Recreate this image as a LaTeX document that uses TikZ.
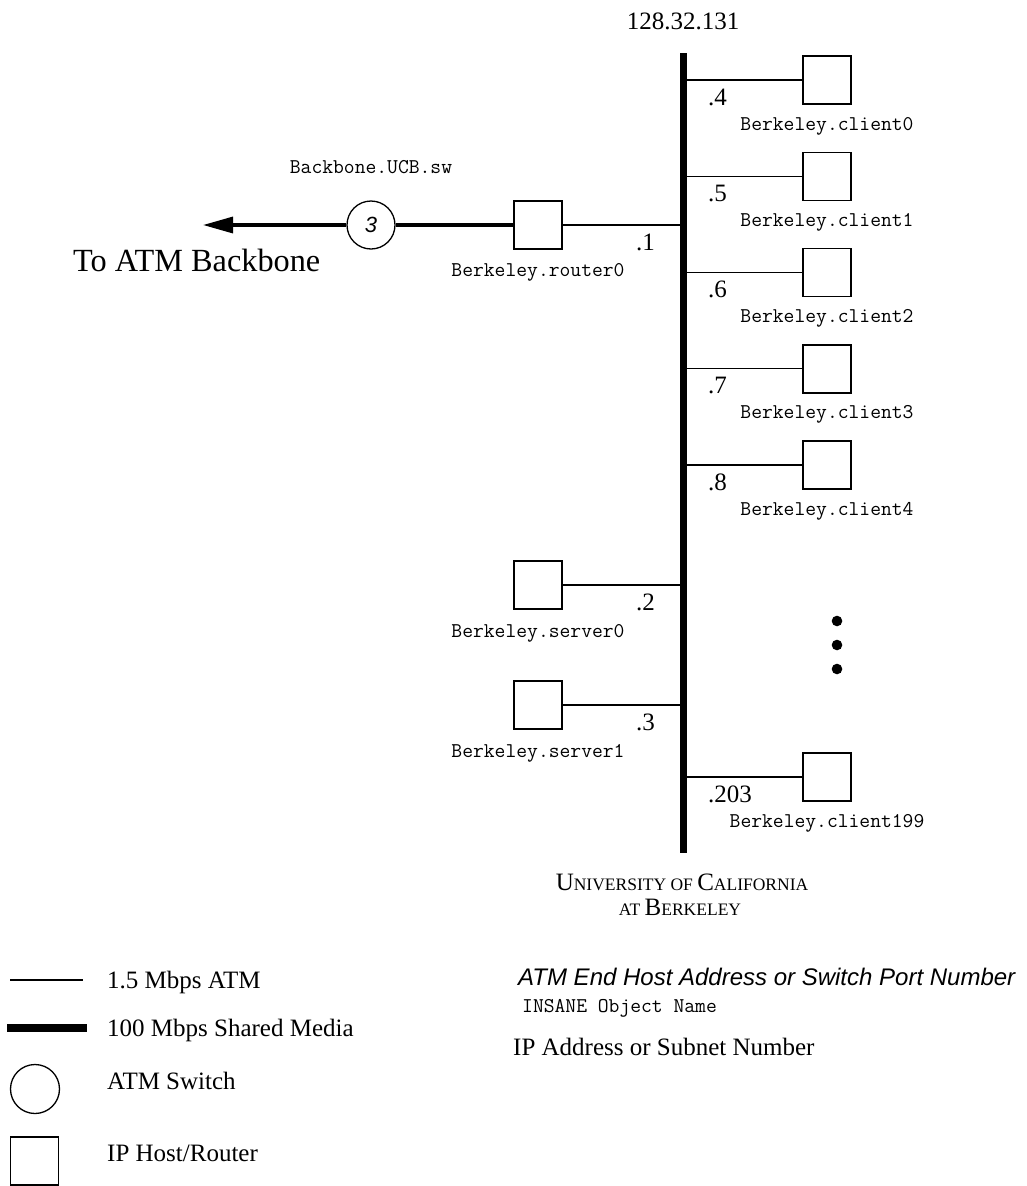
\documentclass[tikz,border=0pt]{standalone}
\usepackage{fontspec}
\setmainfont{Liberation Serif}
\newfontfamily\sansfam{Liberation Sans}
\usetikzlibrary{arrows.meta}
% imitation small capitals: first letter large, rest small upper case
\newcommand\capfake[2]{{\fontsize{25}{30}\selectfont #1}{\fontsize{17.5}{21}\selectfont #2}}

\begin{document}
\begin{tikzpicture}[x=1pt,y=-1pt,
  host/.style={draw, line width=1.5pt, minimum size=48pt, inner sep=0pt, fill=white},
  switchnode/.style={draw, circle, line width=1.3pt, minimum size=48pt, inner sep=0pt, fill=white,
    font=\sansfam\itshape\fontsize{22}{24}\selectfont},
  link/.style={line width=1.3pt},
  trunk/.style={line width=3.2pt},
  busline/.style={line width=7pt},
  ipnum/.style={anchor=base west, inner sep=0pt, font=\fontsize{25}{30}\selectfont},
  ipnumc/.style={anchor=base, inner sep=0pt, font=\fontsize{25}{30}\selectfont},
  objname/.style={anchor=base, inner sep=0pt, font=\ttfamily\fontsize{21}{25}\selectfont},
  legendtext/.style={anchor=base west, inner sep=0pt, font=\fontsize{25}{30}\selectfont},
  dotmark/.style={circle, fill, inner sep=0pt, minimum size=10.6pt},
]
\useasboundingbox (0,0) rectangle (1026,1186);

% shared medium
\coordinate (bustop) at (683.5,53);
\coordinate (busbot) at (683.5,853);
\node[ipnumc] (subnet) at (683,29) {128.32.131};

% clients on the right side
\foreach \i/\ip/\y in {0/4/80,1/5/176.25,2/6/272.5,3/7/368.75,4/8/465} {
  \node[host] (client\i) at (827,\y) {};
  \draw[link] (client\i.west) -- (client\i.west -| bustop);
  \node[ipnum] (ipc\i) at (708,\y+25) {.\ip};
  \node[objname] (namec\i) at (827,\y+50) {Berkeley.client\i};
}
\node[host] (client199) at (827,777) {};
\draw[link] (client199.west) -- (client199.west -| bustop);
\node[ipnum] (ipc199) at (708,802) {.203};
\node[objname] (namec199) at (827,827) {Berkeley.client199};

% ellipsis between client4 and client199
\node[dotmark] (dota) at (837,621) {};
\node[dotmark] (dotb) at (837,645) {};
\node[dotmark] (dotc) at (837,669) {};

% router and servers on the left side
\node[host] (router) at (538,225) {};
\draw[link] (router.east) -- (router.east -| bustop);
\node[ipnum] (iprouter) at (636,250) {.1};
\node[objname] (namerouter) at (538,276) {Berkeley.router0};

\node[host] (server0) at (538,585) {};
\draw[link] (server0.east) -- (server0.east -| bustop);
\node[ipnum] (ips0) at (636,610) {.2};
\node[objname] (names0) at (538,637) {Berkeley.server0};

\node[host] (server1) at (538,705) {};
\draw[link] (server1.east) -- (server1.east -| bustop);
\node[ipnum] (ips1) at (636,730) {.3};
\node[objname] (names1) at (538,757) {Berkeley.server1};

\draw[busline] (bustop) -- (busbot);

% ATM switch and uplink
\node[switchnode] (sw) at (371,225) {3};
\node[objname] (swname) at (371,173) {Backbone.UCB.sw};
\coordinate (uplink) at (203,225);
\draw[trunk] (router.west) -- (sw.east);
\draw[trunk, -{Triangle[length=30pt,width=16pt]}] (sw.west) -- (uplink);
\node[anchor=base west, inner sep=0pt, font=\fontsize{32.3}{36}\selectfont] (tobb) at (73,271) {To ATM Backbone};

% site name
\node[anchor=base, inner sep=0pt] (site1) at (682,890) {\capfake{U}{NIVERSITY OF }\capfake{C}{ALIFORNIA}};
\node[anchor=base, inner sep=0pt] (site2) at (680,915) {\capfake{}{AT }\capfake{B}{ERKELEY}};

% legend: symbols
\coordinate (la1) at (10,980);
\coordinate (la2) at (83,980);
\draw[link] (la1) -- (la2);
\coordinate (lb1) at (7,1028);
\coordinate (lb2) at (87,1028);
\draw[line width=8pt] (lb1) -- (lb2);
\node[switchnode, minimum size=49pt] (legsw) at (35,1089) {};
\node[host] (leghost) at (34.5,1161) {};
\node[legendtext] (lt1) at (107,988) {1.5 Mbps ATM};
\node[legendtext] (lt2) at (107,1036) {100 Mbps Shared Media};
\node[legendtext] (lt3) at (107,1089) {ATM Switch};
\node[legendtext] (lt4) at (107,1161) {IP Host/Router};

% legend: label kinds
\node[anchor=base west, inner sep=0pt, font=\sansfam\itshape\fontsize{24}{28}\selectfont] (lk1) at (518,985) {ATM End Host Address or Switch Port Number};
\node[objname, anchor=base west] (lk2) at (522,1012) {INSANE Object Name};
\node[legendtext] (lk3) at (513,1055) {IP Address or Subnet Number};
\end{tikzpicture}
\end{document}
